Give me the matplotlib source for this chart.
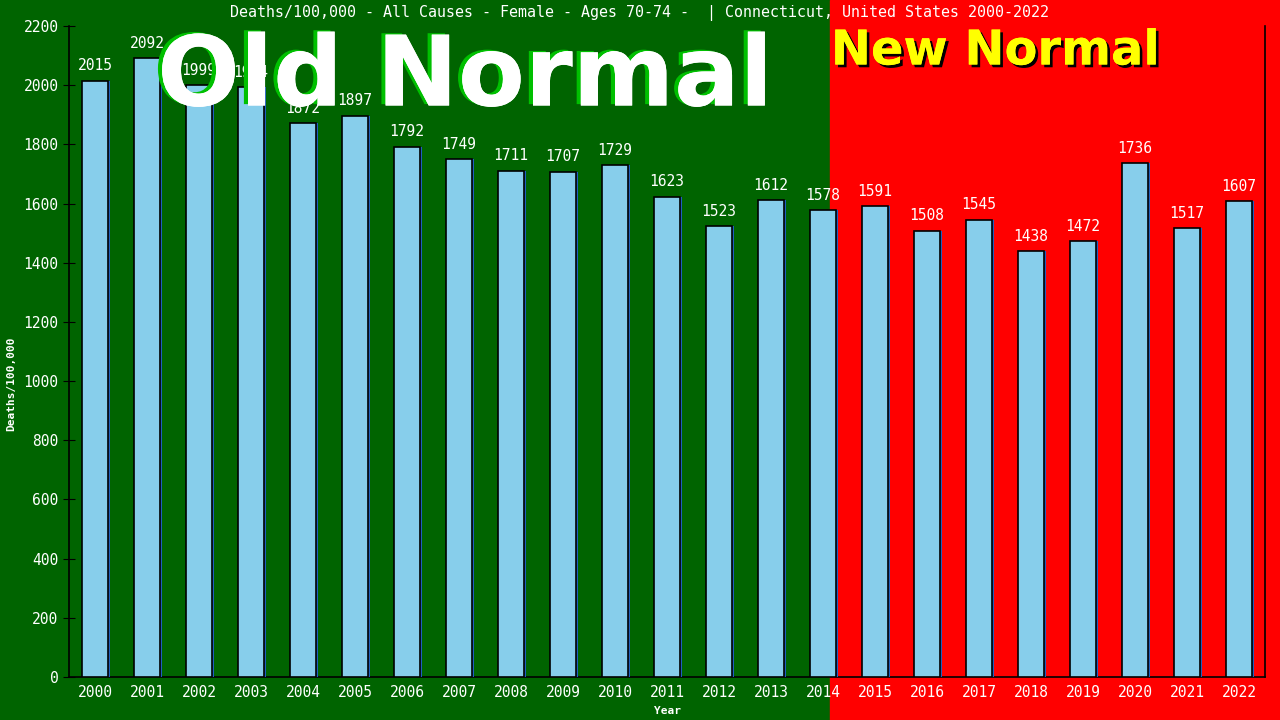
import matplotlib
matplotlib.use('Agg')
import matplotlib.pyplot as plt
import matplotlib.patheffects as pe
from matplotlib.patches import Rectangle

# 数据
years = [str(y) for y in range(2000, 2023)]
deaths = [2015, 2092, 1999, 1994, 1872, 1897, 1792, 1749, 1711, 1707, 1729, 1623,
          1523, 1612, 1578, 1591, 1508, 1545, 1438, 1472, 1736, 1517, 1607]
yticks = list(range(0, 2201, 200))

title = 'Deaths/100,000 - All Causes - Female - Ages 70-74 -  | Connecticut, United States 2000-2022'

green = '#006400'
red = '#ff0000'
mono = 'DejaVu Sans Mono'

fig = plt.figure(figsize=(12.8, 7.2), dpi=100)
split = 830 / 1280
# 背景: 左绿右红
fig.patches.append(Rectangle((0, 0), split, 1, transform=fig.transFigure, color=green, zorder=-10))
fig.patches.append(Rectangle((split, 0), 1 - split, 1, transform=fig.transFigure, color=red, zorder=-10))

ax = fig.add_axes([69 / 1280, 43 / 720, (1265 - 69) / 1280, (677 - 26) / 720])
ax.patch.set_alpha(0)

x = list(range(len(years)))
# 蓝色阴影
ax.bar([i + 0.04 for i in x], deaths, width=0.5, color='#1f5fbf', zorder=3)
bars = ax.bar(x, deaths, width=0.5, color='#87ceeb', edgecolor='black', linewidth=1.2, zorder=6)

for i, v in enumerate(deaths):
    ax.text(i, v + 25, str(v), ha='center', va='bottom', color='white',
            fontsize=10.5, family=mono, zorder=2)

ax.set_xlim(-0.5, len(years) - 0.5)
ax.set_ylim(0, 2200)
ax.set_yticks(yticks)
ax.set_xticks(x)
ax.set_xticklabels(years)
ax.tick_params(axis='y', direction='inout', length=8, colors='black', labelcolor='white', labelsize=10.5)
ax.tick_params(axis='x', length=0, labelcolor='white', labelsize=10.5, pad=6)
for lab in ax.get_xticklabels() + ax.get_yticklabels():
    lab.set_family(mono)
ax.spines['top'].set_visible(False)
for s in ['left', 'right', 'bottom']:
    ax.spines[s].set_color('black')
    ax.spines[s].set_linewidth(1.2)

ax.set_ylabel('Deaths/100,000', color='white', fontsize=8, family=mono, fontweight='bold')
ax.yaxis.set_label_coords(-0.044, 0.45)
ax.set_xlabel('Year', color='white', fontsize=8, family=mono, fontweight='bold', labelpad=4)

fig.text(0.5, 1 - 13 / 720, title, ha='center', va='center', color='white', fontsize=10.8, family=mono)

fig.text(465 / 1280, 1 - 79 / 720, 'Old Normal', ha='center', va='center', color='white',
         fontsize=70, fontweight='bold', family='DejaVu Sans', zorder=5,
         path_effects=[pe.withSimplePatchShadow(offset=(-3, 1), shadow_rgbFace='#00c000', alpha=1), pe.Normal()])
fig.text(995 / 1280, 1 - 51 / 720, 'New Normal', ha='center', va='center', color='#ffff00',
         fontsize=34.5, fontweight='bold', family='DejaVu Sans', zorder=5,
         path_effects=[pe.withSimplePatchShadow(offset=(2, -2), shadow_rgbFace='black', alpha=1), pe.Normal()])

plt.savefig('out.png', dpi=100, facecolor=green)
